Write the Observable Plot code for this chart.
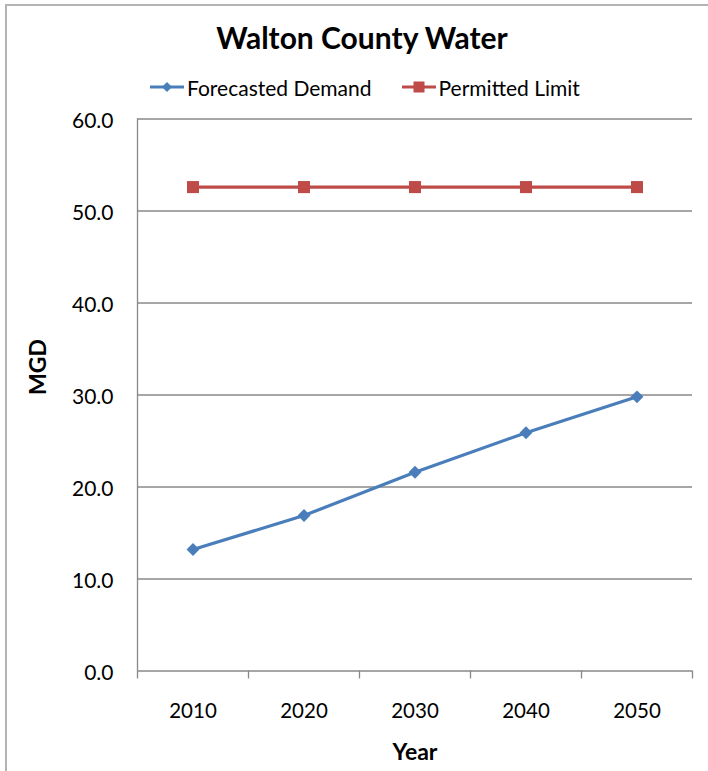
<!DOCTYPE html>
<html>
<head>
<meta charset="utf-8">
<script src="https://cdn.jsdelivr.net/npm/d3@7"></script>
<script src="https://cdn.jsdelivr.net/npm/@observablehq/plot@0.6"></script>
<style>
  html, body { margin: 0; padding: 0; background: #fff; }
  #wrap { position: relative; width: 708px; height: 771px; overflow: hidden; font-family: Lato, "Open Sans", sans-serif; color: #000; }
  #frame { position: absolute; left: 5px; top: 4px; width: 800px; height: 900px; border-left: 2px solid #b4b4b4; border-top: 2px solid #b4b4b4; }
  #title { position: absolute; left: 0; width: 724px; top: 19px; text-align: center; font-weight: 700; font-size: 30px; line-height: 36px; }
  #legend { position: absolute; top: 75px; left: 150px; height: 24px; display: flex; align-items: center; font-size: 21px; }
  .item { display: flex; align-items: center; }
  .item svg { display: block; }
  .item span { margin-left: 3px; }
  #chart { position: absolute; left: 0; top: 100px; }
</style>
</head>
<body>
<div id="wrap">
  <div id="frame"></div>
  <div id="title"></div>
  <div id="legend"></div>
  <div id="chart"></div>
</div>
<script>
const titleText = "Walton County Water";
const years = [2010, 2020, 2030, 2040, 2050];
const forecastedDemand = [13.2, 16.9, 21.6, 25.9, 29.8];
const permittedLimit = [52.6, 52.6, 52.6, 52.6, 52.6];
const seriesNames = ["Forecasted Demand", "Permitted Limit"];
const seriesColors = ["#4A7EBB", "#BE4B48"];
const seriesSymbols = ["diamond2", "square"];
const yTicks = [0, 10, 20, 30, 40, 50, 60];
const xLabel = "Year";
const yLabel = "MGD";

document.getElementById("title").textContent = titleText;

// Legend
const legend = document.getElementById("legend");
seriesNames.forEach((name, i) => {
  const item = document.createElement("div");
  item.className = "item";
  if (i > 0) item.style.marginLeft = "30px";
  const ns = "http://www.w3.org/2000/svg";
  const sw = document.createElementNS(ns, "svg");
  sw.setAttribute("width", 34); sw.setAttribute("height", 14);
  const ln = document.createElementNS(ns, "line");
  ln.setAttribute("x1", 0); ln.setAttribute("x2", 34); ln.setAttribute("y1", 7); ln.setAttribute("y2", 7);
  ln.setAttribute("stroke", seriesColors[i]); ln.setAttribute("stroke-width", 3);
  sw.appendChild(ln);
  if (seriesSymbols[i] === "square") {
    const r = document.createElementNS(ns, "rect");
    r.setAttribute("x", 11.5); r.setAttribute("y", 1.5); r.setAttribute("width", 11); r.setAttribute("height", 11);
    r.setAttribute("fill", seriesColors[i]);
    sw.appendChild(r);
  } else {
    const p = document.createElementNS(ns, "path");
    p.setAttribute("d", "M17,2 L22,7 L17,12 L12,7 Z");
    p.setAttribute("fill", seriesColors[i]);
    sw.appendChild(p);
  }
  item.appendChild(sw);
  const t = document.createElement("span");
  t.textContent = name;
  item.appendChild(t);
  legend.appendChild(item);
});

const demandRows = years.map((yr, i) => ({year: yr, value: forecastedDemand[i], series: seriesNames[0]}));
const limitRows = years.map((yr, i) => ({year: yr, value: permittedLimit[i], series: seriesNames[1]}));
const step = years[1] - years[0];
const bounds = [...years.map(y => y - step / 2), years[years.length - 1] + step / 2];
const gridColor = "#888888";

const chart = Plot.plot({
  width: 708,
  height: 671,
  marginLeft: 137,
  marginRight: 16,
  marginTop: 18.5,
  marginBottom: 100.5,
  style: {fontFamily: "Lato, 'Open Sans', sans-serif", fontSize: "20px", color: "#000", background: "transparent", overflow: "visible"},
  x: {domain: [bounds[0], bounds[bounds.length - 1]], axis: null},
  y: {domain: [0, 60], axis: null},
  marks: [
    Plot.gridY(yTicks, {stroke: gridColor, strokeOpacity: 1, strokeWidth: 1.3}),
    Plot.ruleX([bounds[0]], {stroke: gridColor, strokeWidth: 1.3}),
    Plot.ruleX(bounds, {x: d => d, y1: 0, y2: 0, insetBottom: -8, stroke: gridColor, strokeWidth: 1.3}),
    Plot.text(yTicks, {y: d => d, frameAnchor: "left", dx: -24, dy: 2, textAnchor: "end", lineAnchor: "middle", text: d => d.toFixed(1), fontSize: 21}),
    Plot.text(years, {x: d => d, frameAnchor: "bottom", dy: 40.5, lineAnchor: "middle", text: d => String(d), fontSize: 20.5}),
    Plot.text([xLabel], {frameAnchor: "bottom", dy: 81.5, lineAnchor: "middle", text: d => d, fontSize: 23, fontWeight: "bold"}),
    Plot.text([yLabel], {frameAnchor: "left", dx: -98.5, rotate: -90, lineAnchor: "middle", text: d => d, fontSize: 23, fontWeight: "bold"}),
    Plot.line(demandRows, {x: "year", y: "value", stroke: seriesColors[0], strokeWidth: 3.2}),
    Plot.line(limitRows, {x: "year", y: "value", stroke: seriesColors[1], strokeWidth: 3.2}),
    Plot.dot(demandRows, {x: "year", y: "value", symbol: seriesSymbols[0], fill: seriesColors[0], r: 5.8, stroke: "none"}),
    Plot.dot(limitRows, {x: "year", y: "value", symbol: seriesSymbols[1], fill: seriesColors[1], r: 6.8, stroke: "none"})
  ]
});
document.getElementById("chart").appendChild(chart);
</script>
</body>
</html>
